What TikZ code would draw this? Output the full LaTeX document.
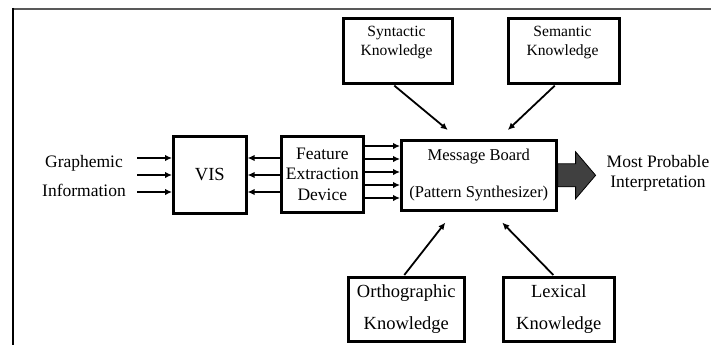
\documentclass[tikz,border=0pt]{standalone}
\usepackage{fontspec}
\setmainfont{Liberation Serif}
\usetikzlibrary{arrows.meta,calc}
\begin{document}
\begin{tikzpicture}[x=1pt,y=-1pt,
  box/.style={draw=black, line width=2.6pt, inner sep=0pt, anchor=north west, align=center},
  lbl/.style={inner sep=0pt, align=center},
  arr/.style={draw=black, line width=1.8pt, -{Latex[length=7pt,width=6.5pt]}},
  fA/.style={font=\fontsize{17.5}{20.5}\selectfont},
  fB/.style={font=\fontsize{15.6}{18.8}\selectfont},
  fC/.style={font=\fontsize{16.5}{19.8}\selectfont},
  fD/.style={font=\fontsize{18.5}{22}\selectfont},
]
\useasboundingbox (0,0) rectangle (711,345);
% frame
\draw[black!65, line width=2.2pt] (12,9) -- (711,9);
\draw[black, line width=2pt] (13,8) -- (13,345);

% boxes
\node[box, fA, minimum width=73pt, minimum height=77pt] (vis) at (172,135) {\fontsize{18.5}{22}\selectfont VIS};
\node[box, fA, minimum width=82pt, minimum height=76pt] (fe) at (280,135) {Feature\\Extraction\\Device};
\node[box, fC, minimum width=155pt, minimum height=70pt] (mb) at (400,139) {Message Board\\[17pt](Pattern Synthesizer)};
\node[box, minimum width=109pt, minimum height=65pt] (syn) at (342,17) {};
\node[box, minimum width=111pt, minimum height=65pt] (sem) at (507,17) {};
\node[box, fD, minimum width=116pt, minimum height=64pt] (orth) at (347,276) {Orthographic\\[10pt]Knowledge};
\node[box, fD, minimum width=111pt, minimum height=64pt] (lex) at (502,276) {Lexical\\[10pt]Knowledge};

% labels
\node[lbl, fB] (synt) at (396.5,42.5) {Syntactic\\Knowledge};
\node[lbl, fB] (semt) at (562.5,42.5) {Semantic\\Knowledge};
\node[lbl, fA] (graph) at (84,176) {Graphemic\\[8.5pt]Information};
\node[lbl, fA] (mpi) at (658,173.5) {Most Probable\\Interpretation};

% graphemic input arrows
\foreach \y [count=\i] in {158,175,192} {
  \coordinate (g\i) at (137,\y);
  \draw[arr] (g\i) -- (vis.west |- g\i);
  \draw[arr] (fe.west |- g\i) -- (vis.east |- g\i);
}
% feature -> message board
\foreach \y in {146,159,172,185,198}
  \draw[arr] (fe.east |- 0,\y) -- (mb.west |- 0,\y);

% knowledge arrows
\draw[arr] ($(syn.south)+(-3.5,1)$) -- ($(mb.north)+(-31,-9)$);
\draw[arr] ($(sem.south)+(-9,1)$) -- ($(mb.north)+(29,-9)$);
\draw[arr] ($(orth.north)+(-2,-1)$) -- ($(mb.south)+(-33.5,11)$);
\draw[arr] ($(lex.north)+(-5.5,-1)$) -- ($(mb.south)+(23.5,11)$);

% big output arrow
\draw[fill=black!75, draw=black, line width=0.8pt]
  ($(mb.east)+(0,-11.5)$) -- ++(18,0) -- ++(0,-12) -- ++(20,23.5) -- ++(-20,23.5)
  -- ++(0,-12) -- ++(-18,0) -- cycle;
\end{tikzpicture}
\end{document}
